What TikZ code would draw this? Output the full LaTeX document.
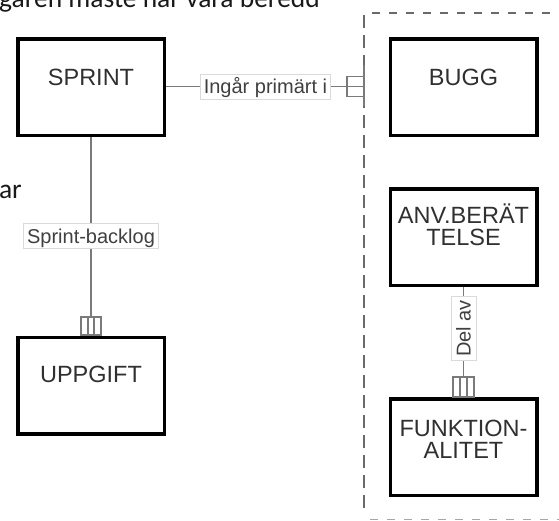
\documentclass[tikz,border=0pt]{standalone}
\usepackage{fontspec}
\setmainfont{Liberation Sans}
\newfontfamily\calfont{Carlito}
\definecolor{conn}{HTML}{7A7A7A}
\definecolor{grp}{HTML}{6A6A6A}
\definecolor{lblborder}{HTML}{DADADA}
\definecolor{lbltext}{HTML}{404040}
\definecolor{boxtext}{HTML}{303030}
\begin{document}
\begin{tikzpicture}[x=1pt,y=-1pt,
  entity/.style={draw=black, line width=3.5pt, minimum width=146.5pt, minimum height=96.5pt, inner sep=0pt},
  etext/.style={anchor=base, inner sep=0pt, text=boxtext, font=\fontsize{23.5}{28}\selectfont},
  rel/.style={draw=conn, line width=1.3pt},
  rlabel/.style={draw=lblborder, line width=0.8pt, fill=white, text=lbltext, font=\fontsize{20}{24}\selectfont, text height=17pt, text depth=3pt, inner xsep=3.5pt, inner ysep=2.5pt},
  sym/.style={draw=conn, line width=1.3pt},
  grpline/.style={draw=grp, line width=2pt},
  note/.style={inner sep=0pt, font=\calfont\fontsize{27.5}{32}\selectfont, text=black!90}
]
\useasboundingbox (0,0) rectangle (559,520);

% free text fragments
\node[note, anchor=base west] (topnote) at (-1,7) {\llap{ä}garen måste här vara beredd};
\node[note, anchor=base east] (sidenote) at (22,198) {ar};

% group boundary (dashed)
\path[grpline, dash pattern=on 13pt off 7pt] (364,15) -- (364,514);
\path[grpline, dash pattern=on 8pt off 9pt] (372,12.5) -- (562,12.5);
\path[draw=grp!60, line width=1.6pt, dash pattern=on 8pt off 9pt] (370,519.5) -- (562,519.5);
\coordinate (grpedge) at (364,86.5);

% entities
\node[entity] (sprint) at (91,87) {};
\node[etext] (sprinttxt) at (91,85) {SPRINT};
\node[entity] (bugg) at (463.5,87) {};
\node[etext] (buggtxt) at (463.5,85) {BUGG};
\node[entity] (anv) at (463.5,237) {};
\node[etext] (anvtxt1) at (463.5,223.5) {ANV.BERÄT};
\node[etext] (anvtxt2) at (463.5,245) {TELSE};
\node[entity] (funk) at (463.5,447) {};
\node[etext] (funktxt1) at (463.5,436.5) {FUNKTION-};
\node[etext] (funktxt2) at (463.5,458) {ALITET};
\node[entity] (uppg) at (91,385.5) {};
\node[etext] (uppgtxt) at (91,382.7) {UPPGIFT};

% symbols at connector ends
\coordinate (usymtop) at (91,317);
\draw[sym] (81,317) rectangle (101,335);
\draw[sym] (88,317) -- (88,335) (94,317) -- (94,335);
\coordinate (fsymtop) at (463.5,377);
\draw[sym] (453,377) rectangle (474,397);
\draw[sym] (460,377) -- (460,397) (467,377) -- (467,397);
\draw[sym] (364,76.5) -- (347,76.5) -- (347,96.5) -- (364,96.5);
\draw[sym] (364,65) -- (364,106);

% connectors
\draw[rel] (sprint.south) -- (usymtop);
\node[rlabel] (backlog) at (91,236) {Sprint-backlog};
\draw[rel] (sprint.east |- grpedge) -- (grpedge);
\node[rlabel] (ingar) at (265.5,86.5) {Ingår primärt i};
\draw[rel] (anv.south) -- (fsymtop);
\node[rlabel, rotate=90] (delav) at (463.5,328.5) {Del av};
\end{tikzpicture}
\end{document}
